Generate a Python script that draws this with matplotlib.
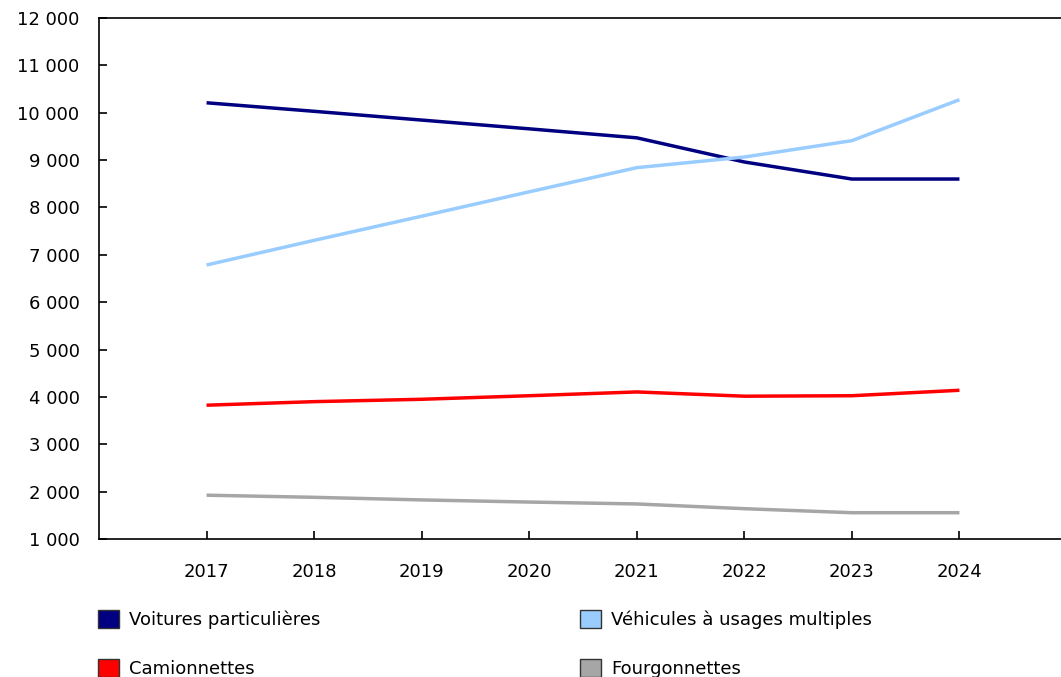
import matplotlib.pyplot as plt
import matplotlib.patches as mpatches
from matplotlib.ticker import FuncFormatter

# --- Data ---
years = [2017, 2018, 2019, 2020, 2021, 2022, 2023, 2024]
voitures = [10210, 10030, 9845, 9660, 9470, 8960, 8600, 8600]
vum = [6785, 7305, 7815, 8330, 8840, 9065, 9410, 10275]
camionnettes = [3825, 3900, 3950, 4025, 4105, 4015, 4025, 4140]
fourgonnettes = [1925, 1880, 1825, 1780, 1740, 1640, 1555, 1555]

labels = ["Voitures particulières", "Véhicules à usages multiples",
          "Camionnettes", "Fourgonnettes"]
colors = ["#000080", "#99CCFF", "#FF0000", "#A6A6A6"]
series = [voitures, vum, camionnettes, fourgonnettes]

plt.rcParams['font.family'] = ['DejaVu Sans']
plt.rcParams['font.size'] = 13

fig = plt.figure(figsize=(10.61, 6.77), dpi=100)
ax = fig.add_axes([99 / 1061, 1 - 539 / 677, (1067 - 99) / 1061, (539 - 18) / 677])

for vals, c in zip(series, colors):
    ax.plot(years, vals, color=c, linewidth=2.5, solid_capstyle='butt')

ax.set_xlim(2016, 2025)
ax.set_ylim(1000, 12000)
ax.set_xticks(years)
ax.set_yticks(range(1000, 12001, 1000))
ax.yaxis.set_major_formatter(FuncFormatter(lambda v, p: f"{int(v):,}".replace(",", " ")))

for s in ax.spines.values():
    s.set_linewidth(1.2)
ax.tick_params(axis='x', direction='in', length=6, width=1.2, pad=17, labelsize=13)
ax.tick_params(axis='y', direction='in', length=6, width=1.2, pad=14, labelsize=13)

# --- Legend (row-wise order: ncol fills columns first) ---
handles = [mpatches.Patch(facecolor=c, edgecolor='#333333', linewidth=1, label=l)
           for c, l in zip(colors, labels)]
order = [0, 2, 1, 3]
fig.legend(handles=[handles[i] for i in order], ncol=2, loc='upper left',
           bbox_to_anchor=(98 / 1061, 1 - 610 / 677), frameon=False,
           handlelength=1.15, handleheight=1.15, handletextpad=0.55,
           columnspacing=14.4, labelspacing=1.65, fontsize=13,
           borderaxespad=0, borderpad=0)

plt.savefig("out.png", dpi=100)
plt.close()
